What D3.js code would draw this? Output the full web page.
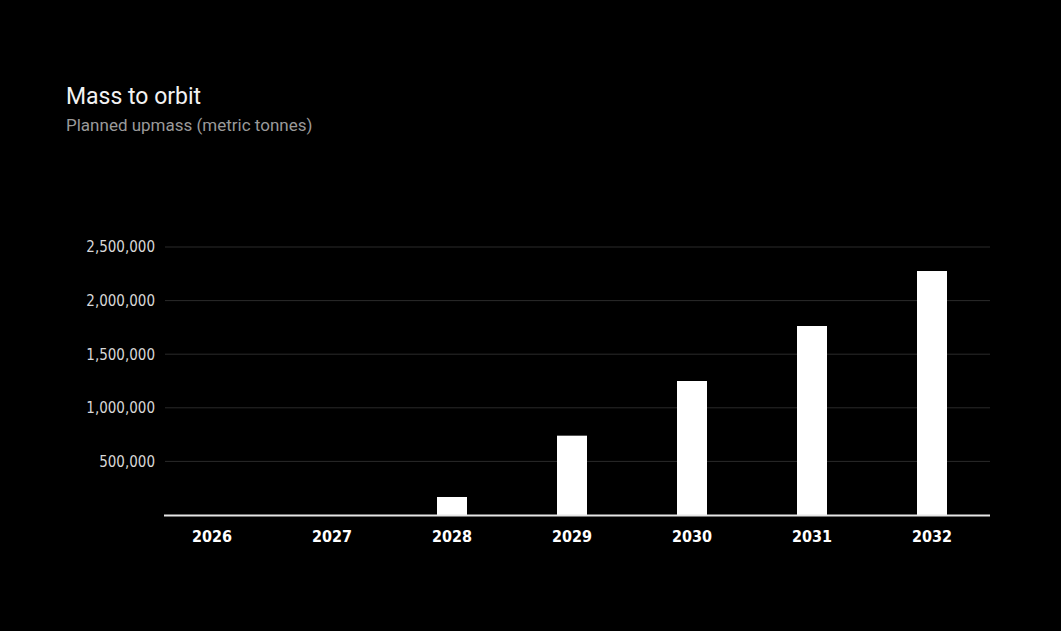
<!DOCTYPE html>
<html>
<head>
<meta charset="utf-8">
<style>
  body { margin: 0; background: #000; }
  .title { fill: #f2f2f2; font-family: Roboto, sans-serif; font-size: 23px; }
  .subtitle { fill: #9a9a9a; font-family: Roboto, sans-serif; font-size: 17px; }
  .y.axis text { fill: #d8d8d8; font-family: "Liberation Sans Narrow", "DejaVu Sans Condensed", sans-serif; font-size: 15px; }
  .x.axis text { fill: #ffffff; font-family: "Liberation Sans Narrow", "DejaVu Sans Condensed", sans-serif; font-size: 16px; font-weight: bold; }
</style>
</head>
<body>
<script src="https://d3js.org/d3.v7.min.js"></script>
<script>
var years = ["2026", "2027", "2028", "2029", "2030", "2031", "2032"];
var upmass = [0, 0, 168000, 740000, 1250000, 1763000, 2276000];
var yTicks = [500000, 1000000, 1500000, 2000000, 2500000];

var width = 1061, height = 631;
var svg = d3.select("body").append("svg")
    .attr("width", width).attr("height", height);

var x = d3.scaleBand().domain(years).range([152, 992]).paddingInner(0.75).paddingOuter(0.375);
var y = d3.scaleLinear().domain([0, 2500000]).range([515, 247]);

// gridlines
svg.append("g").selectAll("line").data(yTicks).enter().append("line")
    .attr("x1", 165).attr("x2", 990)
    .attr("y1", function(d) { return y(d); }).attr("y2", function(d) { return y(d); })
    .style("stroke", "#2a2a2a").style("stroke-width", 1);

var gy = svg.append("g").attr("class", "y axis")
    .attr("transform", "translate(165,0)")
    .call(d3.axisLeft(y).tickValues(yTicks).tickSize(0).tickPadding(10).tickFormat(d3.format(",")));
gy.select(".domain").remove();

svg.selectAll(".bar").data(years).enter().append("rect")
    .attr("class", "bar")
    .attr("x", function(d) { return x(d); })
    .attr("width", x.bandwidth())
    .attr("y", function(d, i) { return y(upmass[i]); })
    .attr("height", function(d, i) { return y(0) - y(upmass[i]); })
    .attr("fill", "#ffffff");

var gx = svg.append("g").attr("class", "x axis")
    .attr("transform", "translate(0,515)")
    .call(d3.axisBottom(x).tickSize(0).tickPadding(16));
gx.select(".domain").remove();

svg.append("line")
    .attr("x1", 164).attr("x2", 990).attr("y1", 515.5).attr("y2", 515.5)
    .style("stroke", "#e6e6e6").style("stroke-width", 2);

svg.append("text").attr("class", "title").attr("x", 66).attr("y", 104).text("Mass to orbit");
svg.append("text").attr("class", "subtitle").attr("x", 66).attr("y", 131).text("Planned upmass (metric tonnes)");
</script>
</body>
</html>
